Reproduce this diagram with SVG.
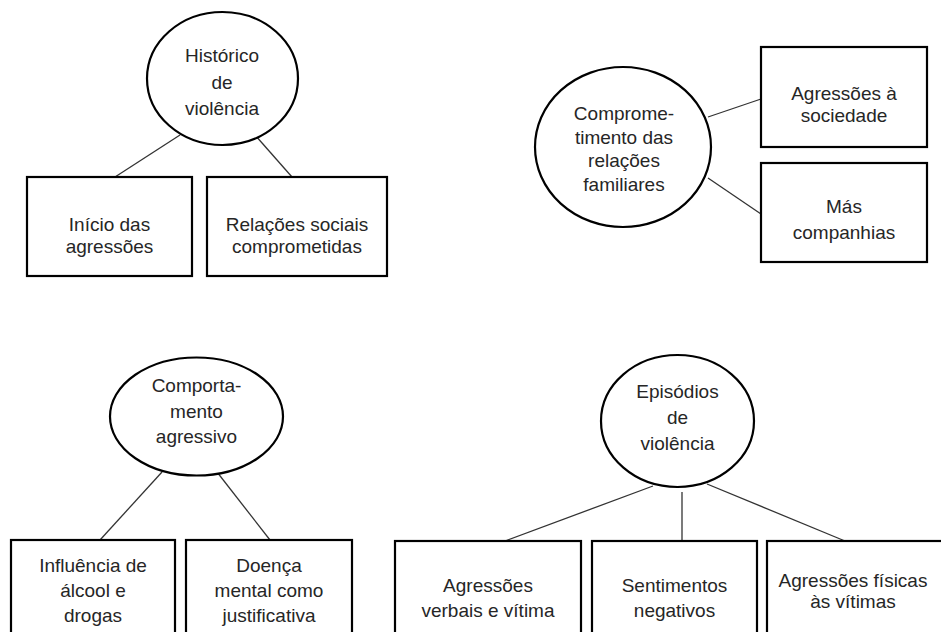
<svg xmlns="http://www.w3.org/2000/svg" width="941" height="632" viewBox="0 0 941 632">
<style>
.box{fill:#fff;stroke:#000;stroke-width:2.2}
.ell{fill:#fff;stroke:#000;stroke-width:2.2}
.con line{stroke:#333;stroke-width:1.3}
text{font-family:"Liberation Sans",Arial,sans-serif;font-size:19px;fill:#262626;text-anchor:middle}
</style>
<rect width="941" height="632" fill="#fff"/>
<g class="con" id="connectors">
<line x1="180" y1="135" x2="115" y2="177"/>
<line x1="255" y1="135" x2="292" y2="177"/>
<line x1="708" y1="117" x2="761" y2="99"/>
<line x1="708" y1="178" x2="761" y2="214"/>
<line x1="162" y1="472" x2="100" y2="540"/>
<line x1="217" y1="472" x2="270" y2="540"/>
<line x1="653" y1="486" x2="505" y2="541"/>
<line x1="682" y1="492" x2="682" y2="541"/>
<line x1="707" y1="484" x2="845" y2="541"/>
</g>
<g id="historico">
<ellipse class="ell" cx="222.5" cy="78.5" rx="75.5" ry="66.5"/>
<text x="222" y="62">Histórico</text>
<text x="222" y="88.5">de</text>
<text x="222" y="115">violência</text>
</g>
<g id="inicio">
<rect class="box" x="27" y="177" width="165" height="99"/>
<text x="109.5" y="231">Início das</text>
<text x="109.5" y="252.5">agressões</text>
</g>
<g id="relacoes">
<rect class="box" x="207" y="177" width="180" height="99"/>
<text x="297" y="231">Relações sociais</text>
<text x="297" y="252.5">comprometidas</text>
</g>
<g id="comprometimento">
<ellipse class="ell" cx="623" cy="147" rx="88" ry="80"/>
<text x="624" y="120">Comprome-</text>
<text x="624" y="143.5">timento das</text>
<text x="624" y="167">relações</text>
<text x="624" y="190.5">familiares</text>
</g>
<g id="agressoes-sociedade">
<rect class="box" x="761" y="47" width="166" height="100"/>
<text x="844" y="100">Agressões à</text>
<text x="844" y="122">sociedade</text>
</g>
<g id="mas-companhias">
<rect class="box" x="761" y="163" width="166" height="99"/>
<text x="844" y="213">Más</text>
<text x="844" y="239">companhias</text>
</g>
<g id="comportamento">
<ellipse class="ell" cx="196.5" cy="416.5" rx="86.5" ry="59"/>
<text x="196.5" y="392">Comporta-</text>
<text x="196.5" y="417.5">mento</text>
<text x="196.5" y="443">agressivo</text>
</g>
<g id="influencia">
<rect class="box" x="11" y="540" width="164" height="110"/>
<text x="93" y="572">Influência de</text>
<text x="93" y="597">álcool e</text>
<text x="93" y="622">drogas</text>
</g>
<g id="doenca">
<rect class="box" x="186" y="540" width="166" height="110"/>
<text x="269" y="572">Doença</text>
<text x="269" y="597">mental como</text>
<text x="269" y="622">justificativa</text>
</g>
<g id="episodios">
<ellipse class="ell" cx="677.5" cy="421" rx="76.5" ry="66"/>
<text x="677.5" y="398">Episódios</text>
<text x="677.5" y="424">de</text>
<text x="677.5" y="450">violência</text>
</g>
<g id="verbais">
<rect class="box" x="395" y="541" width="186" height="110"/>
<text x="488" y="592">Agressões</text>
<text x="488" y="617">verbais e vítima</text>
</g>
<g id="sentimentos">
<rect class="box" x="592" y="541" width="165" height="110"/>
<text x="674.5" y="592">Sentimentos</text>
<text x="674.5" y="617">negativos</text>
</g>
<g id="fisicas">
<rect class="box" x="767" y="541" width="185" height="110"/>
<text x="853" y="587">Agressões físicas</text>
<text x="853" y="608">às vítimas</text>
</g>
</svg>
